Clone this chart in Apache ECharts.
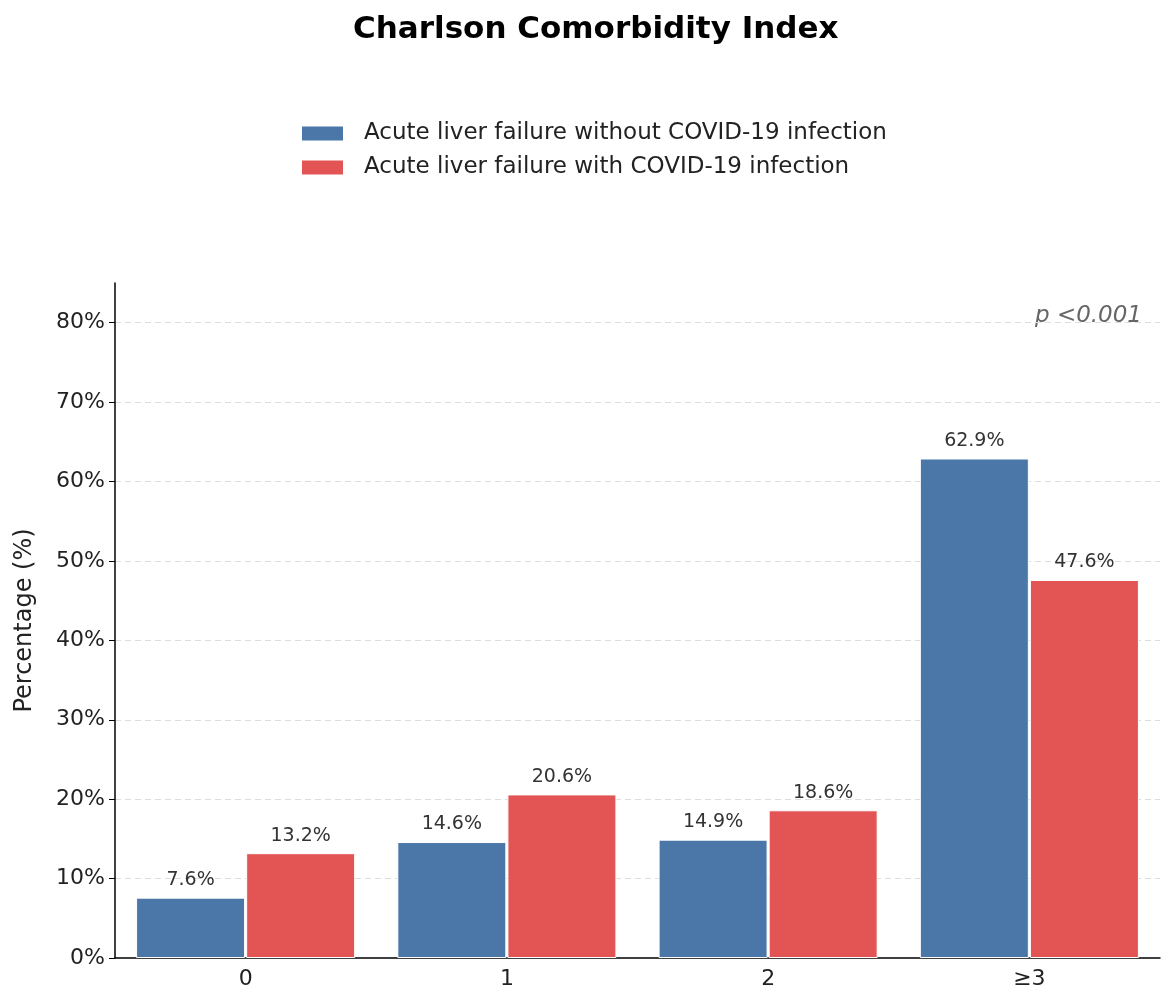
<!DOCTYPE html>
<html>
<head>
<meta charset="utf-8">
<script src="https://cdn.jsdelivr.net/npm/echarts@6/dist/echarts.min.js"></script>
<style>
  html, body { margin: 0; padding: 0; background: #fff; }
  #chart { width: 1176px; height: 1006px; }
</style>
</head>
<body>
<div id="chart"></div>
<script>
const categories = ['0', '1', '2', '≥3'];
const withoutCovid = [7.6, 14.6, 14.9, 62.9];
const withCovid = [13.2, 20.6, 18.6, 47.6];
const seriesNames = ['Acute liver failure without COVID-19 infection', 'Acute liver failure with COVID-19 infection'];

const FONT = 'DejaVu Sans';
const chart = echarts.init(document.getElementById('chart'));

const barLabel = {
  show: true,
  position: 'top',
  distance: 8,
  color: '#333',
  fontSize: 19,
  fontFamily: FONT,
  formatter: p => p.value.toFixed(1) + '%'
};

chart.setOption({
  backgroundColor: '#fff',
  animation: false,
  title: {
    text: 'Charlson Comorbidity Index',
    left: 348,
    top: 9,
    textStyle: { fontFamily: FONT, fontSize: 31, fontWeight: 'bold', color: '#000' }
  },
  legend: {
    orient: 'vertical',
    left: 295,
    top: 117,
    icon: 'rect',
    itemWidth: 43,
    itemHeight: 16,
    itemGap: 11,
    textStyle: { fontFamily: FONT, fontSize: 23, color: '#222', padding: [0, 0, 0, 15] },
    data: seriesNames
  },
  grid: { left: 115, right: 16, top: 283, bottom: 48, containLabel: false },
  graphic: [{
    type: 'text',
    right: 34,
    top: 305,
    style: { text: 'p <0.001', fontFamily: FONT, fontSize: 23, fontStyle: 'italic', fill: '#666' }
  }],
  xAxis: {
    type: 'category',
    data: categories,
    axisLine: { lineStyle: { color: '#000', width: 1.5 } },
    axisTick: { alignWithLabel: true, length: 6, lineStyle: { color: '#000' }, interval: 0 },
    axisLabel: { fontFamily: FONT, fontSize: 22, color: '#222', margin: 10 }
  },
  yAxis: {
    type: 'value',
    min: 0,
    max: 85,
    interval: 10,
    name: 'Percentage (%)',
    nameLocation: 'middle',
    nameGap: 78,
    nameTextStyle: { fontFamily: FONT, fontSize: 24, color: '#222' },
    axisLine: { show: true, lineStyle: { color: '#000', width: 1.5 } },
    axisTick: { show: true, length: 6, lineStyle: { color: '#000' } },
    axisLabel: { fontFamily: FONT, fontSize: 22, color: '#222', margin: 10, showMaxLabel: false, formatter: v => v + '%' },
    splitLine: {
      show: true,
      lineStyle: {
        type: [6, 4],
        color: ['transparent', '#ddd', '#ddd', '#ddd', '#ddd', '#ddd', '#ddd', '#ddd', '#ddd', 'transparent']
      }
    }
  },
  series: [
    {
      name: seriesNames[0],
      type: 'bar',
      data: withoutCovid,
      barWidth: 109,
      barGap: '1%',
      itemStyle: { color: '#4a77a7', borderColor: '#fff', borderWidth: 1 },
      label: barLabel
    },
    {
      name: seriesNames[1],
      type: 'bar',
      data: withCovid,
      barWidth: 109,
      barGap: '1%',
      itemStyle: { color: '#e35555', borderColor: '#fff', borderWidth: 1 },
      label: barLabel
    }
  ]
});
</script>
</body>
</html>
